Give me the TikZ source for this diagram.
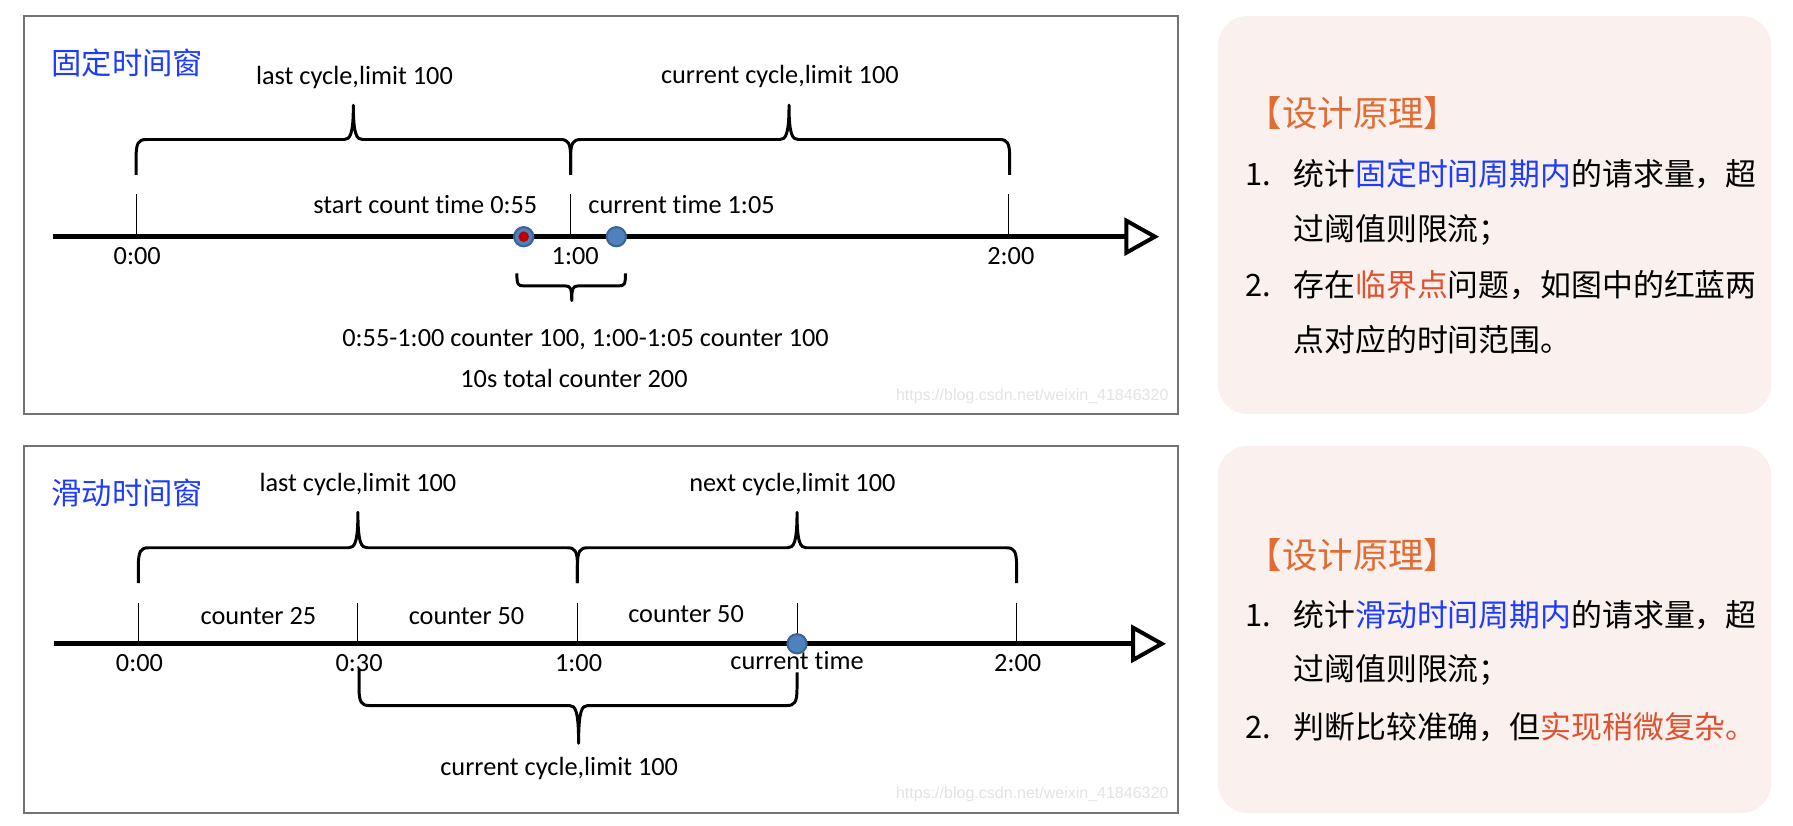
\documentclass[tikz,border=0pt]{standalone}
\usepackage{fontspec}
\setmainfont[Ligatures=NoCommon]{Carlito}
\newfontfamily\cjk{Noto Sans CJK SC}
\newfontfamily\wmfont{Liberation Sans}
\usetikzlibrary{arrows}

\definecolor{winblue}{HTML}{1E3CFF}
\definecolor{keyred}{HTML}{E0522F}
\definecolor{headorange}{HTML}{E26B32}
\definecolor{panelpink}{HTML}{FAF0EE}
\definecolor{dotblue}{HTML}{4F81BD}
\definecolor{dotring}{HTML}{3C6596}
\definecolor{dotred}{HTML}{C00000}

\begin{document}
\begin{tikzpicture}[x=1pt, y=-1pt,
  frame/.style={draw=black!55, line width=1.3pt},
  lbl/.style={font=\fontsize{23}{27}\selectfont},
  ttl/.style={font=\cjk\fontsize{26.5}{30}\selectfont, text=winblue, anchor=west, inner sep=0pt},
  brace/.style={line width=2.6pt, line join=round},
  tick/.style={line width=0.9pt},
  axis/.style={line width=4.5pt},
  tiphead/.style={line width=3.5pt, fill=white, line join=miter},
  dot/.style={fill=dotblue, draw=dotring, line width=1.8pt},
  wmark/.style={font=\wmfont\fontsize{14}{16}\selectfont, text=black!11, anchor=east, inner sep=0pt},
  panel/.style={fill=panelpink, rounded corners=26pt},
  head cn/.style={font=\cjk\fontsize{31}{36}\selectfont, text=headorange, anchor=west, inner sep=0pt},
  body cn/.style={font=\cjk\fontsize{27}{32}\selectfont, anchor=west, inner sep=0pt}]

\useasboundingbox (0,0) rectangle (1568,722);

% fixed window
\draw[frame] (21,14) rectangle (1030,362);
\node[ttl] (fixTitle) at (45,55) {固定时间窗};

% braces above
\draw[brace] (119,153) -- (119,138) .. controls (119,125) and (121,122) .. (128,122) -- (301,122) .. controls (306,122) and (309,118) .. (309,92) .. controls (309,118) and (312,122) .. (317,122) -- (490,122) .. controls (497,122) and (499,125) .. (499,138) -- (499,153);
\draw[brace] (499,153) -- (499,138) .. controls (499,125) and (501,122) .. (508,122) -- (682,122) .. controls (687,122) and (690,118) .. (690,92) .. controls (690,118) and (693,122) .. (698,122) -- (874,122) .. controls (881,122) and (883,125) .. (883,138) -- (883,153);
\node[lbl] (lastFix) at (310,68) {last cycle,limit 100};
\node[lbl] (curFix) at (682,67) {current cycle,limit 100};

% axis
\draw[tick] (119,170) -- (119,207) (499,170) -- (499,207) (882,170) -- (882,207);
\draw[axis] (46,207) -- (985,207);
\draw[tiphead] (985,193) -- (1010,207) -- (985,221) -- cycle;
\node[lbl] (fix0) at (120,224) {0:00};
\node[lbl] (fix1) at (503,224) {1:00};
\node[lbl] (fix2) at (884,224) {2:00};

% points
\draw[dot] (458,207) circle (8.4);
\fill[dotred] (458,207) circle (4.6);
\draw[dot] (539,207) circle (8.4);
\node[lbl] (startT) at (372,179) {start count time 0:55};
\node[lbl] (curT) at (596,179) {current time 1:05};

% brace below
\draw[brace] (452,239) .. controls (452,249) and (453,250) .. (458,250) -- (494,250) .. controls (499,250) and (500,252) .. (500,263) .. controls (500,252) and (501,250) .. (506,250) -- (541,250) .. controls (546,250) and (547,249) .. (547,239);
\node[lbl] (sumFix) at (512,297) {0:55-1:00 counter 100, 1:00-1:05 counter 100};
\node[lbl] (totFix) at (502,331) {10s total counter 200};
\node[wmark] (markFix) at (1022,347) {https://blog.csdn.net/weixin\_41846320};

% sliding window
\draw[frame] (21,390) rectangle (1030,711);
\node[ttl] (slideTitle) at (45,431) {滑动时间窗};

% braces above
\draw[brace] (121,510) -- (121,495) .. controls (121,482) and (123,479) .. (130,479) -- (305,479) .. controls (310,479) and (313,475) .. (313,448) .. controls (313,475) and (316,479) .. (321,479) -- (496,479) .. controls (503,479) and (505,482) .. (505,495) -- (505,510);
\draw[brace] (505,510) -- (505,495) .. controls (505,482) and (507,479) .. (514,479) -- (689,479) .. controls (694,479) and (697,475) .. (697,448) .. controls (697,475) and (700,479) .. (705,479) -- (880,479) .. controls (887,479) and (889,482) .. (889,495) -- (889,510);
\node[lbl] (lastSl) at (313,424) {last cycle,limit 100};
\node[lbl] (nextSl) at (693,424) {next cycle,limit 100};

% axis
\draw[tick] (121,527) -- (121,563) (313,527) -- (313,563) (505,527) -- (505,563) (697,527) -- (697,563) (889,527) -- (889,563);
\draw[axis] (47,563) -- (991,563);
\draw[tiphead] (991,549) -- (1016,563) -- (991,577) -- cycle;
\node[lbl] (cnt1) at (226,539) {counter 25};
\node[lbl] (cnt2) at (408,539) {counter 50};
\node[lbl] (cnt3) at (600,537) {counter 50};
\node[lbl] (sl0) at (122,580) {0:00};
\node[lbl] (sl3) at (314,580) {0:30};
\node[lbl] (sl1) at (506,580) {1:00};
\node[lbl] (sl2) at (890,580) {2:00};
\draw[dot] (697,563) circle (8.4);
\node[lbl] (nowSl) at (697,578) {current time};

% brace below
\draw[brace] (314,585) -- (314,602) .. controls (314,614) and (316,617) .. (323,617) -- (498,617) .. controls (503,617) and (506,621) .. (506,650) .. controls (506,621) and (509,617) .. (514,617) -- (688,617) .. controls (695,617) and (697,614) .. (697,602) -- (697,588);
\node[lbl] (curSl) at (489,672) {current cycle,limit 100};
\node[wmark] (markSl) at (1022,695) {https://blog.csdn.net/weixin\_41846320};

% notes, fixed window
\fill[panel] (1065,14) rectangle (1549,362);
\node[head cn] (headFix) at (1090,99) {【设计原理】};
\node[body cn] (fixL1) at (1089,152) {\makebox[42pt][l]{1.}统计{\color{winblue}固定时间周期内}的请求量，超};
\node[body cn] (fixL2) at (1131,201) {过阈值则限流；};
\node[body cn] (fixL3) at (1089,249) {\makebox[42pt][l]{2.}存在{\color{keyred}临界点}问题，如图中的红蓝两};
\node[body cn] (fixL4) at (1131,297) {点对应的时间范围。};

% notes, sliding window
\fill[panel] (1065,390) rectangle (1549,711);
\node[head cn] (headSl) at (1090,485) {【设计原理】};
\node[body cn] (slL1) at (1089,538) {\makebox[42pt][l]{1.}统计{\color{winblue}滑动时间周期内}的请求量，超};
\node[body cn] (slL2) at (1131,586) {过阈值则限流；};
\node[body cn] (slL3) at (1089,636) {\makebox[42pt][l]{2.}判断比较准确，但{\color{keyred}实现稍微复杂。}};

\end{tikzpicture}
\end{document}
